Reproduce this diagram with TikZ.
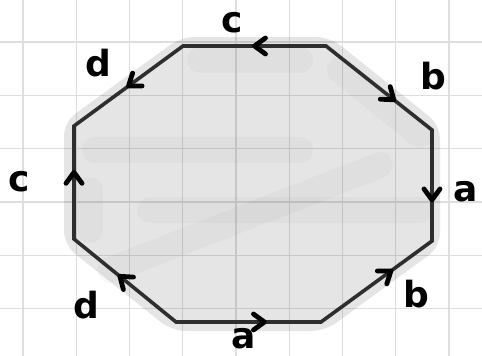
\documentclass[tikz,border=0pt]{standalone}
\usepackage{fontspec}
\setmainfont{DejaVu Sans}
\usetikzlibrary{decorations.markings}
\definecolor{gridc}{HTML}{DEDEDE}
\definecolor{edgec}{HTML}{2E2E2E}
\tikzset{
  gridline/.style={draw=gridc, line width=1.3pt},
  shade/.style={fill=black, fill opacity=0.10, draw=none},
  smear/.style={draw=black, draw opacity=0.025, line width=26pt, line cap=round},
  edge/.style={draw=edgec, line width=3.6pt, line join=miter},
  headat/.style={postaction={decorate, decoration={markings,
      mark=at position #1 with {\draw[black, line width=4.8pt, line cap=round, line join=round]
        (-11pt,-8pt) -- (0pt,0pt) -- (-11pt,8pt);}}}},
  lbl/.style={inner sep=0pt, font=\fontsize{36}{40}\selectfont\bfseries, text=black}
}
\begin{document}
\begin{tikzpicture}[x=1pt, y=-1pt]
\useasboundingbox (0,0) rectangle (482,356);
\fill[white] (0,0) rectangle (482,356);
% grid
\foreach \k in {0,...,8} \draw[gridline] ({23+\k*53.25},0) -- ({23+\k*53.25},356);
\foreach \k in {0,...,5} \draw[gridline] (0,{42+\k*53.3}) -- (482,{42+\k*53.3});
% vertices
\coordinate (A) at (183,46);
\coordinate (B) at (326,46);
\coordinate (C) at (432,130);
\coordinate (D) at (432,241);
\coordinate (E) at (321,322);
\coordinate (F) at (176,322);
\coordinate (G) at (74,239);
\coordinate (H) at (74,126);
% shaded fill
\path[shade, rounded corners=14pt] (181,37) -- (330,37) -- (440,125) -- (440,247) -- (325,331) -- (172,331) -- (64,245) -- (64,122) -- cycle;
\draw[smear] (95,150) -- (300,150);
\draw[smear] (150,210) -- (420,210);
\draw[smear] (110,270) -- (380,165);
\draw[smear] (200,60) -- (300,60);
\draw[smear] (340,70) -- (420,135);
\draw[smear] (90,190) -- (90,230);
% octagon
\draw[edge] (A) -- (B) -- (C) -- (D) -- (E) -- (F) -- (G) -- (H) -- cycle;
% arrowheads
\path[headat=0.50] (B) -- (A);
\path[headat=0.50] (A) -- (H);
\path[headat=0.59] (G) -- (H);
\path[headat=0.55] (F) -- (G);
\path[headat=0.61] (F) -- (E);
\path[headat=0.63] (E) -- (D);
\path[headat=0.63] (C) -- (D);
\path[headat=0.64] (B) -- (C);
% labels
\node[lbl] (lc1) at (232,23) {c};
\node[lbl] (ld1) at (98,63) {d};
\node[lbl] (lb1) at (433,76) {b};
\node[lbl] (la1) at (466,192) {a};
\node[lbl] (lc2) at (19,182) {c};
\node[lbl] (ld2) at (86,305) {d};
\node[lbl] (lb2) at (416,294) {b};
\node[lbl] (la2) at (244,339) {a};
\end{tikzpicture}
\end{document}
